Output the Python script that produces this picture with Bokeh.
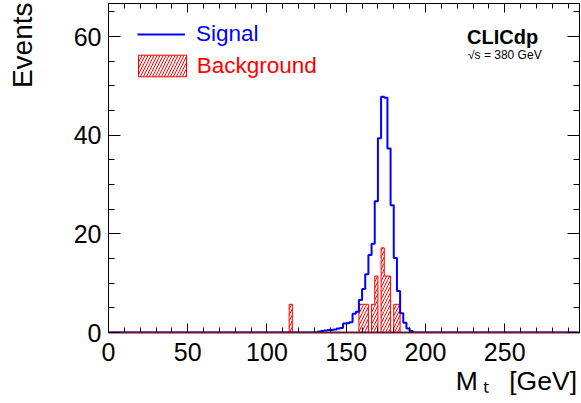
import numpy as np
from bokeh.plotting import figure
from bokeh.models import (Range1d, LinearAxis, FixedTicker, Label, Legend,
                          LegendItem, Title)
from bokeh.embed import file_html
from bokeh.resources import INLINE

# ---------------- data ----------------
bin_width = 2.0            # GeV per bin
n_bins = 148               # 0 .. 296 GeV
x_axis_max = 297.2
y_axis_max = 66.7

signal_first_bin_low = 130.0
signal_events = [0.0, 0.2, 0.3, 0.4, 0.5, 0.5, 0.6, 0.8, 0.9, 1.8,
                 1.9, 2.1, 3.8, 4.2, 6.6, 8.8, 11.8, 15.7, 18.0, 26.6,
                 39.4, 47.8, 47.6, 37.3, 25.8, 15.1, 8.4, 3.9, 2.0, 0.8,
                 0.3]

background_bin_low = [114, 158, 160, 162, 166, 168, 172, 174, 176, 180, 182]
background_raw_events = [1, 1, 1, 1, 1, 2, 3, 2, 2, 1, 1]
background_event_weight = 5.72

x_tick_values = [0, 50, 100, 150, 200, 250]
y_tick_values = [0, 20, 40, 60]
x_minor_values = list(range(0, 300, 10))
y_minor_values = list(range(0, 70, 5))

signal_label = "Signal"
background_label = "Background"
x_title = "M\u2009ₜ\u00a0\u00a0\u2009[GeV]"
y_title = "Events"
experiment = "CLICdp"
energy_text = "√s = 380 GeV"

# ---------------- histogram arrays ----------------
edges = np.arange(n_bins + 1) * bin_width
sig = np.zeros(n_bins)
i0 = int(signal_first_bin_low / bin_width)
sig[i0:i0 + len(signal_events)] = signal_events
bkg = np.zeros(n_bins)
for lo, n in zip(background_bin_low, background_raw_events):
    bkg[int(lo / bin_width)] = n * background_event_weight
bkg_lo = np.array(background_bin_low, dtype=float)
bkg_top = np.array(background_raw_events) * background_event_weight

# ---------------- layout ----------------
W, H = 581, 403
BL, BR, BT, BB = 108, 2, 3, 71
FW, FH = W - BL - BR, H - BT - BB
FONT = "Liberation Sans"


def px_x(page_x):
    return (page_x - BL) / FW * x_axis_max


def px_y(page_y):
    return (H - BB - page_y) / FH * y_axis_max


p = figure(width=W, height=H, output_backend="svg", toolbar_location=None,
           x_range=Range1d(0, x_axis_max), y_range=Range1d(0, y_axis_max),
           x_axis_type=None, y_axis_type=None,
           min_border_left=BL, min_border_right=BR, min_border_top=BT,
           min_border_bottom=BB)
p.grid.visible = False
p.outline_line_color = "black"
p.outline_line_width = 1
p.background_fill_color = "white"
p.border_fill_color = "white"


def style_ticks(ax, major_in, minor_in):
    ax.major_tick_out = 0
    ax.minor_tick_out = 0
    ax.major_tick_in = major_in
    ax.minor_tick_in = minor_in
    ax.major_tick_line_color = "black"
    ax.minor_tick_line_color = "black"


# labelled axes
xaxis = LinearAxis(ticker=FixedTicker(ticks=x_tick_values, minor_ticks=x_minor_values))
style_ticks(xaxis, 9, 5)
xaxis.axis_line_color = "#6e1434"
xaxis.axis_line_width = 2
xaxis.major_label_text_font = FONT
xaxis.major_label_text_font_size = "25px"
xaxis.major_label_text_color = "black"
xaxis.major_label_standoff = 10
p.add_layout(xaxis, "below")

yaxis = LinearAxis(ticker=FixedTicker(ticks=y_tick_values, minor_ticks=y_minor_values))
style_ticks(yaxis, 12, 6)
yaxis.axis_line_color = "black"
yaxis.major_label_text_font = FONT
yaxis.major_label_text_font_size = "25px"
yaxis.major_label_text_color = "black"
yaxis.major_label_standoff = 7
p.add_layout(yaxis, "left")


# mirrored tick marks (no labels) on the top and right edges
def mirror_axis(side, positions, length):
    ax = LinearAxis(ticker=FixedTicker(ticks=[], minor_ticks=positions))
    style_ticks(ax, length, length)
    ax.major_label_standoff = 0
    ax.axis_line_color = "black"
    p.add_layout(ax, side)


mirror_axis("above", x_minor_values, 5)
mirror_axis("above", x_tick_values, 9)
mirror_axis("right", y_minor_values, 6)
mirror_axis("right", y_tick_values, 12)

# axis titles (ROOT style: at the far end of each axis).
# The y title gets a trailing empty line so that its visible line sits at
# the far left edge of the canvas, as in the reference.
p.add_layout(Title(text=y_title + "\n", align="right", text_font=FONT,
                   text_font_size="28px", text_font_style="normal",
                   text_color="black", standoff=3, offset=-1), "left")
p.add_layout(Title(text=x_title, align="right", text_font=FONT,
                   text_font_size="26.5px", text_font_style="normal",
                   text_color="black", standoff=0, offset=2.5), "below")

# ---------------- histograms ----------------
p.quad(left=bkg_lo, right=bkg_lo + bin_width, bottom=0, top=bkg_top,
       fill_alpha=0, line_alpha=0, hatch_pattern="/", hatch_color="red",
       hatch_scale=6, hatch_weight=1)
p.step(x=edges, y=np.append(bkg, bkg[-1]), mode="after",
       line_color="red", line_width=1)
sig_r = p.step(x=edges, y=np.append(sig, sig[-1]), mode="after",
               line_color="blue", line_width=2)
# hidden copy of the background bars, used only for its legend swatch
bkg_proxy = p.quad(left=bkg_lo, right=bkg_lo + bin_width, bottom=0, top=bkg_top,
                   fill_alpha=0, line_color="red", line_width=1,
                   hatch_pattern="/", hatch_color="red", hatch_scale=6,
                   hatch_weight=1, visible=False)


# ---------------- legends ----------------
def make_legend(item_label, renderer, color, loc, gw, gh, standoff):
    lg = Legend(items=[LegendItem(label=item_label, renderers=[renderer])],
                location=loc, orientation="vertical")
    lg.padding = 0
    lg.margin = 0
    lg.spacing = 0
    lg.glyph_width = gw
    lg.glyph_height = gh
    lg.label_height = 22
    lg.label_standoff = standoff
    lg.label_text_font = FONT
    lg.label_text_font_size = "22.5px"
    lg.label_text_color = color
    lg.border_line_alpha = 0
    lg.background_fill_alpha = 0
    lg.inactive_fill_alpha = 0
    return lg


p.add_layout(make_legend(signal_label, sig_r, "blue", (29, 285), 48, 22, 11))
p.add_layout(make_legend(background_label, bkg_proxy, "red", (23.7, 253),
                         60, 27, 5))

# ---------------- texts inside the frame ----------------
p.add_layout(Label(x=px_x(466.5), y=px_y(36.5), text=experiment,
                   text_align="left", text_baseline="alphabetic",
                   text_font=FONT, text_font_size="20px",
                   text_font_style="bold", text_color="black"))
p.add_layout(Label(x=px_x(467.5), y=px_y(54), text=energy_text,
                   text_align="left", text_baseline="alphabetic",
                   text_font=FONT, text_font_size="12px", text_color="black"))

open("out.html", "w").write(file_html(p, INLINE))
